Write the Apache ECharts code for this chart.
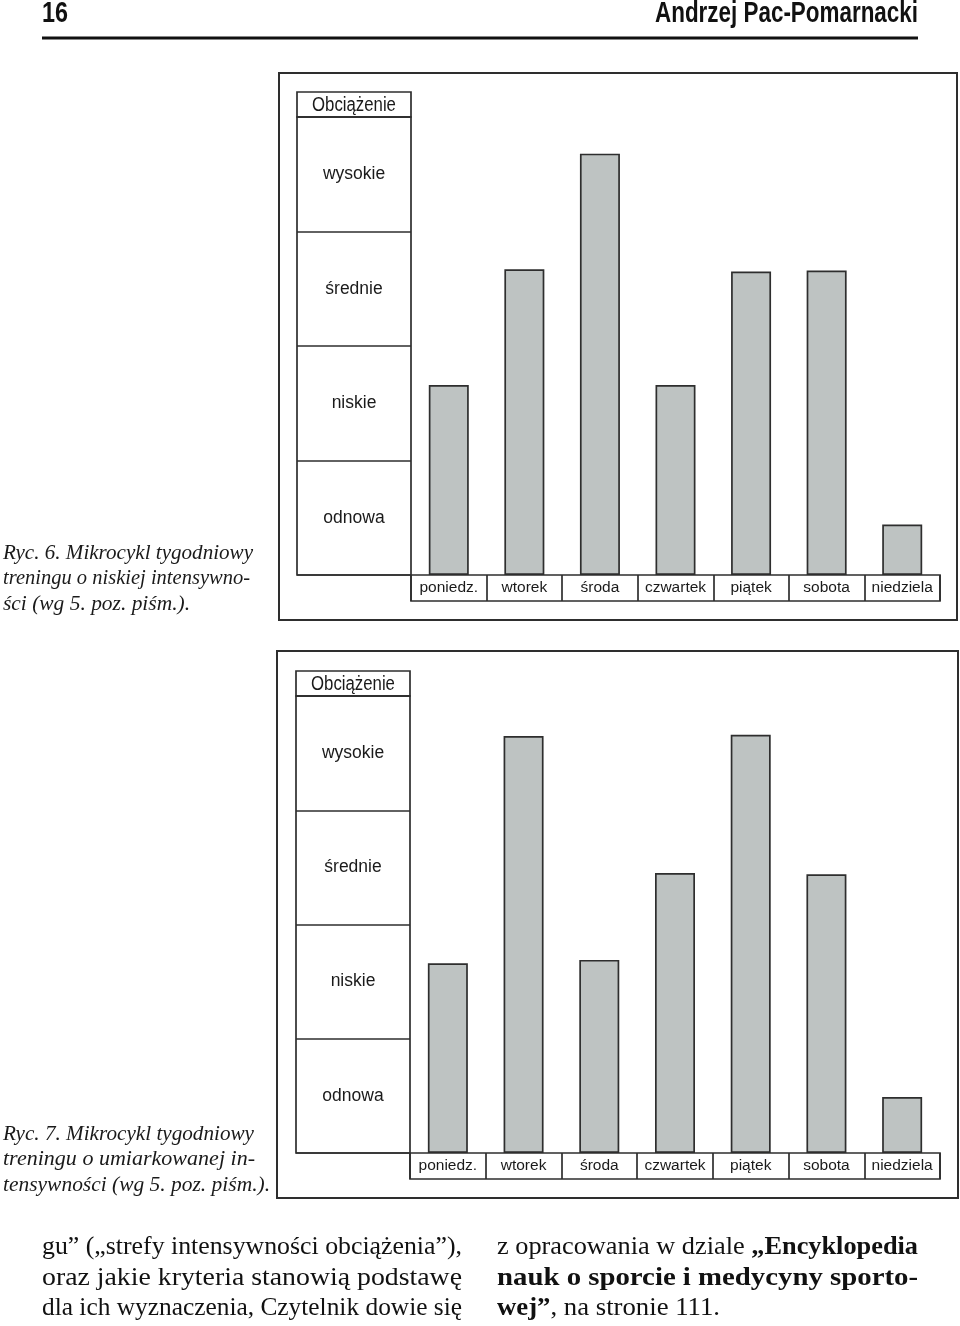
<!DOCTYPE html>
<html>
<head>
<meta charset="utf-8">
<script src="https://cdn.jsdelivr.net/npm/echarts@6/dist/echarts.min.js"></script>
<style>
html,body{margin:0;padding:0;background:#fff;}
#c{width:960px;height:1326px;}
</style>
</head>
<body>
<div id="c"></div>
<script>
// ---- data ----
const days = ['poniedz.', 'wtorek', 'środa', 'czwartek', 'piątek', 'sobota', 'niedziela'];
const levels = ['odnowa', 'niskie', 'średnie', 'wysokie'];
const headerLabel = 'Obciążenie';
const loadRyc6 = [1.66, 2.67, 3.68, 1.66, 2.65, 2.66, 0.44];
const loadRyc7 = [1.66, 3.65, 1.69, 2.45, 3.66, 2.44, 0.49];
const caption6 = ['Ryc. 6. Mikrocykl tygodniowy', 'treningu o niskiej intensywno-', 'ści (wg 5. poz. piśm.).'];
const caption7 = ['Ryc. 7. Mikrocykl tygodniowy', 'treningu o umiarkowanej in-', 'tensywności (wg 5. poz. piśm.).'];
const bodyLeft = ['gu” („strefy intensywności obciążenia”),', 'oraz jakie kryteria stanowią podstawę', 'dla ich wyznaczenia, Czytelnik dowie się'];
const bodyRight = [
  [['n', 'z opracowania w dziale '], ['b', '„Encyklopedia']],
  [['b', 'nauk o sporcie i medycyny sporto-']],
  [['b', 'wej”'], ['n', ', na stronie 111.']]
];
const pageNumber = '16';
const pageAuthor = 'Andrzej Pac-Pomarnacki';

// ---- layout / style ----
const SANS = "'Liberation Sans', Arial, sans-serif";
const SERIF = "'Liberation Serif', 'Times New Roman', serif";
const INK = '#2e2e2e';
const BAR = '#bec3c2';

const layouts = [
  {frame: [279, 73, 678, 547], colLeft: 297, colW: 114, headTop: 92, plotTop: 117, plotBottom: 575, stripH: 26, axisLeft: 411, axisRight: 940, data: loadRyc6, cap: caption6, capY: 553, capW: [250, 247, 187]},
  {frame: [277, 651, 681, 547], colLeft: 296, colW: 114, headTop: 671, plotTop: 696, plotBottom: 1153, stripH: 26, axisLeft: 410, axisRight: 940, data: loadRyc7, cap: caption7, capY: 1134, capW: [251, 252, 267]}
];

// text width measurement (to mimic the justified, condensed print)
const mctx = document.createElement('canvas').getContext('2d');
function measure(text, font) { mctx.font = font; return mctx.measureText(text).width; }

const grid = [], xAxis = [], yAxis = [], series = [], graphic = [];

layouts.forEach((L, k) => {
  const gi = grid.length;
  const plotH = L.plotBottom - L.plotTop;
  // left band column
  grid.push({left: L.colLeft, top: L.plotTop, width: L.colW, height: plotH, show: true, borderColor: INK, borderWidth: 1.7, backgroundColor: 'transparent'});
  xAxis.push({type: 'value', gridIndex: gi, show: false, min: 0, max: 1});
  yAxis.push({type: 'category', gridIndex: gi, data: levels, axisLine: {show: false}, axisTick: {show: false},
    splitLine: {show: true, interval: 0, lineStyle: {color: INK, width: 1.7}},
    axisLabel: {interval: 0, margin: -L.colW / 2, align: 'center', fontSize: 17.5, color: '#1a1a1a', fontFamily: SANS}});
  // bars
  grid.push({left: L.axisLeft, top: L.plotTop, width: L.axisRight - L.axisLeft, height: plotH, show: false});
  xAxis.push({type: 'category', gridIndex: gi + 1, data: days, axisLine: {show: false}, axisTick: {show: false}, axisLabel: {show: false}});
  yAxis.push({type: 'value', gridIndex: gi + 1, min: 0, max: 4, show: false, splitLine: {show: false}});
  series.push({type: 'bar', xAxisIndex: gi + 1, yAxisIndex: gi + 1, data: L.data, barWidth: 40,
    itemStyle: {color: BAR, borderColor: INK, borderWidth: 1.7}, silent: true});
  // day label strip
  grid.push({left: L.axisLeft, top: L.plotBottom, width: L.axisRight - L.axisLeft, height: L.stripH, show: true, borderColor: INK, borderWidth: 1.7, backgroundColor: 'transparent'});
  xAxis.push({type: 'category', gridIndex: gi + 2, data: days, axisLine: {show: false}, axisTick: {show: false},
    splitLine: {show: true, interval: 0, lineStyle: {color: INK, width: 1.7}},
    axisLabel: {interval: 0, margin: -L.stripH / 2, verticalAlign: 'middle', fontSize: 15.5, color: '#1a1a1a', fontFamily: SANS}});
  yAxis.push({type: 'value', gridIndex: gi + 2, show: false, min: 0, max: 1});

  // outer frame
  graphic.push({type: 'rect', shape: {x: L.frame[0], y: L.frame[1], width: L.frame[2], height: L.frame[3]},
    style: {fill: 'none', stroke: INK, lineWidth: 2}, silent: true});
  // header box
  graphic.push({type: 'rect', shape: {x: L.colLeft, y: L.headTop, width: L.colW, height: L.plotTop - L.headTop},
    style: {fill: 'none', stroke: INK, lineWidth: 1.7}, silent: true});
  graphic.push({type: 'text', x: L.colLeft + L.colW / 2, y: (L.headTop + L.plotTop) / 2 + 1, scaleX: 0.86,
    style: {text: headerLabel, align: 'center', verticalAlign: 'middle', fontSize: 19.5, fill: '#1a1a1a', fontFamily: SANS}, silent: true});
  // caption
  L.cap.forEach((t, i) => {
    const f = 'italic 21px ' + SERIF;
    const s = L.capW[i] / measure(t, f);
    graphic.push({type: 'text', x: 3, y: L.capY + i * 25.5, scaleX: s,
      style: {text: t, align: 'left', verticalAlign: 'middle', fontSize: 21, fontStyle: 'italic', fill: '#1a1a1a', fontFamily: SERIF}, silent: true});
  });
});

// page header
(function () {
  const f = 'bold 29px ' + SANS;
  graphic.push({type: 'text', x: 42, y: 14, scaleX: 26 / measure(pageNumber, f),
    style: {text: pageNumber, align: 'left', verticalAlign: 'middle', fontSize: 29, fontWeight: 'bold', fill: '#111', fontFamily: SANS}});
  graphic.push({type: 'text', x: 918, y: 14, scaleX: 263 / measure(pageAuthor, f),
    style: {text: pageAuthor, align: 'right', verticalAlign: 'middle', fontSize: 29, fontWeight: 'bold', fill: '#111', fontFamily: SANS}});
  graphic.push({type: 'line', shape: {x1: 42, y1: 38, x2: 918, y2: 38}, style: {stroke: '#111', lineWidth: 3}});
})();

// body text
const BODY = 26;
const bodyY = [1247, 1278, 1308];
bodyLeft.forEach((t, i) => {
  const s = 420 / measure(t, BODY + 'px ' + SERIF);
  graphic.push({type: 'text', x: 42, y: bodyY[i], scaleX: s,
    style: {text: t, align: 'left', verticalAlign: 'middle', fontSize: BODY, fill: '#111', fontFamily: SERIF}});
});
const rich = {
  n: {fontSize: BODY, fontFamily: SERIF, color: '#111'},
  b: {fontSize: BODY, fontFamily: SERIF, fontWeight: 'bold', color: '#111'}
};
const rightW = [421, 421, 223];
bodyRight.forEach((segs, i) => {
  let w = 0, txt = '';
  segs.forEach(([k, t]) => {
    w += measure(t, (k === 'b' ? 'bold ' : '') + BODY + 'px ' + SERIF);
    txt += '{' + k + '|' + t + '}';
  });
  graphic.push({type: 'text', x: 497, y: bodyY[i], scaleX: rightW[i] / w,
    style: {text: txt, rich: rich, align: 'left', verticalAlign: 'middle', fontSize: BODY, fontFamily: SERIF, fill: '#111'}});
});

const chart = echarts.init(document.getElementById('c'), null, {renderer: 'canvas'});
chart.setOption({
  animation: false,
  backgroundColor: '#fff',
  grid: grid,
  xAxis: xAxis,
  yAxis: yAxis,
  series: series,
  graphic: {elements: graphic}
});
</script>
</body>
</html>
